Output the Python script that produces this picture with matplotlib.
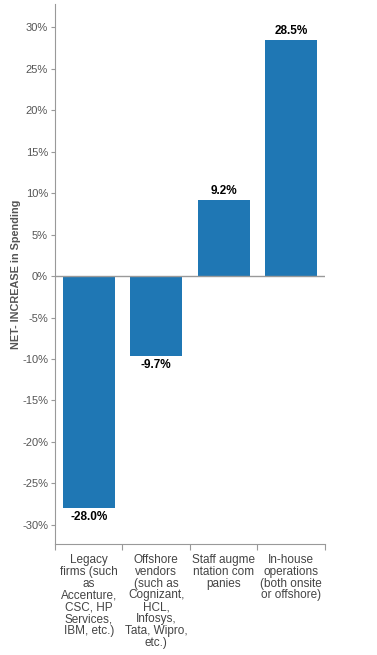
import matplotlib.pyplot as plt

categories = ["Legacy\nfirms (such\nas\nAccenture,\nCSC, HP\nServices,\nIBM, etc.)",
              "Offshore\nvendors\n(such as\nCognizant,\nHCL,\nInfosys,\nTata, Wipro,\netc.)",
              "Staff augme\nntation com\npanies",
              "In-house\noperations\n(both onsite\nor offshore)"]
values = [-28.0, -9.7, 9.2, 28.5]
yticks = [-30, -25, -20, -15, -10, -5, 0, 5, 10, 15, 20, 25, 30]

plt.rcParams['font.family'] = ['Liberation Sans', 'DejaVu Sans']

fig = plt.figure(figsize=(3.77, 6.55), dpi=100)
ax = fig.add_axes([0.1459, 0.1695, 0.716, 0.8245])

x = list(range(len(values)))
ax.bar(x, values, width=0.77, color='#1f77b4', zorder=2)
ax.axhline(0, color='#999999', linewidth=1, zorder=3)

for i, v in enumerate(values):
    if v >= 0:
        ax.text(i, v + 0.3, f"{v:.1f}%", ha='center', va='bottom', fontsize=8.5, fontweight='bold', color='black')
    else:
        ax.text(i, v - 0.3, f"{v:.1f}%", ha='center', va='top', fontsize=8.5, fontweight='bold', color='black')

ax.set_xlim(-0.5, 3.5)
ax.set_ylim(-32.3, 32.8)
ax.set_yticks(yticks)
ax.set_yticklabels([f"{t}%" for t in yticks], fontsize=8, color='#555555')
ax.set_xticks([-0.5, 0.5, 1.5, 2.5, 3.5])
ax.set_xticklabels([])
ax.tick_params(axis='x', length=4, color='#999999')
ax.tick_params(axis='y', length=3, color='#999999', pad=2)
for i, c in enumerate(categories):
    ax.text(i, -33.5, c, ha='center', va='top', fontsize=8.5, color='#444444', linespacing=0.98)

ax.set_ylabel('NET- INCREASE in Spending', fontsize=7.8, fontweight='bold', color='#555555')
ax.yaxis.set_label_coords(-0.125, 0.5)

for s in ['top', 'right']:
    ax.spines[s].set_visible(False)
ax.spines['left'].set_color('#999999')
ax.spines['bottom'].set_color('#999999')

fig.savefig('out.png', dpi=100)
